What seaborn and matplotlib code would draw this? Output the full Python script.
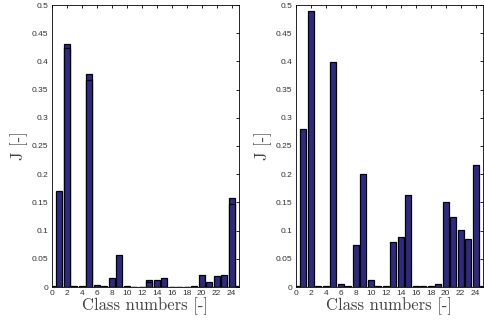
import matplotlib
matplotlib.use("Agg")
import matplotlib.pyplot as plt
import seaborn as sns
import numpy as np
import pandas as pd

# ---- data -------------------------------------------------------------
classes = list(range(0, 26))

# left panel: total bar height and the lower (inner) segment height
left_total = [0.002, 0.170, 0.430, 0.001, 0.001, 0.377, 0.003, 0.001, 0.0165, 0.056,
              0.002, 0.0005, 0.0005, 0.0124, 0.0124, 0.0165, 0.0005, 0.0005, 0.0005, 0.001,
              0.021, 0.0095, 0.020, 0.022, 0.158, 0.002]
left_inner = [0, 0, 0.423, 0, 0, 0.367, 0, 0, 0, 0,
              0, 0, 0, 0.008, 0, 0, 0, 0, 0, 0,
              0, 0, 0, 0, 0.147, 0]

right_total = [0.002, 0.281, 0.489, 0.001, 0.001, 0.399, 0.0053, 0.0024, 0.075, 0.200,
               0.0118, 0.001, 0.001, 0.080, 0.088, 0.1635, 0.002, 0.002, 0.001, 0.005,
               0.150, 0.124, 0.101, 0.0856, 0.2167, 0.002]

xticks = list(range(0, 25, 2))
yticks = [0, 0.05, 0.1, 0.15, 0.2, 0.25, 0.3, 0.35, 0.4, 0.45, 0.5]
ytick_labels = ["0", "0.05", "0.1", "0.15", "0.2", "0.25", "0.3", "0.35", "0.4", "0.45", "0.5"]
xlabel = "Class numbers [-]"
ylabel = "J [-]"

# ---- style ------------------------------------------------------------
sns.set_style("white")
plt.rcParams["font.family"] = ["Liberation Sans", "DejaVu Sans"]

bar_color = "#2e2a82"
W, H = 484, 327
fig = plt.figure(figsize=(W / 100, H / 100), dpi=100)

ax_l = fig.add_axes([52 / W, (H - 287) / H, 187 / W, 282 / H])
ax_r = fig.add_axes([296 / W, (H - 287) / H, 187 / W, 282 / H])


def draw(ax, total, inner=None):
    df = pd.DataFrame({"cls": classes, "J": total})
    sns.barplot(data=df, x="cls", y="J", native_scale=True, width=0.8,
                color=bar_color, saturation=1, edgecolor="black", linewidth=0.9,
                errorbar=None, ax=ax)
    if inner is not None:
        di = pd.DataFrame({"cls": classes, "J": inner})
        sns.barplot(data=di, x="cls", y="J", native_scale=True, width=0.8,
                    color=bar_color, saturation=1, edgecolor="black", linewidth=0.9,
                    errorbar=None, ax=ax)
    ax.set_xlim(0, 25)
    ax.set_ylim(0, 0.5)
    ax.set_xticks(xticks)
    ax.set_xticklabels([str(t) for t in xticks])
    ax.set_yticks(yticks)
    ax.set_yticklabels(ytick_labels)
    ax.tick_params(direction="in", length=2.5, width=0.6, labelsize=6,
                   top=True, right=True, pad=2.5, colors="black")
    ax.tick_params(labelcolor="#333333")
    for s in ax.spines.values():
        s.set_visible(True)
        s.set_color("black")
        s.set_linewidth(0.6)
    ax.set_xlabel(xlabel, family=["cmr10", "DejaVu Serif"], fontsize=12,
                  color="#444444", labelpad=0)
    ax.set_ylabel(ylabel, family=["cmr10", "DejaVu Serif"], fontsize=12,
                  color="#444444", labelpad=3)


draw(ax_l, left_total, left_inner)
draw(ax_r, right_total)

fig.savefig("out.png", dpi=100)
